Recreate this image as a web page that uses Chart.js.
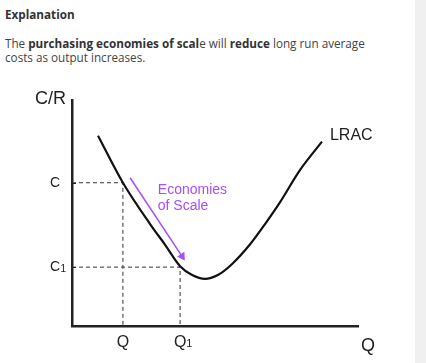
<!DOCTYPE html>
<html>
<head>
<meta charset="utf-8">
<script src="https://cdn.jsdelivr.net/npm/chart.js@4"></script>
<style>
  html, body { margin: 0; padding: 0; }
  body { width: 426px; height: 363px; background: #f0f0f0; position: relative; overflow: hidden; }
  #page { position: absolute; left: 0; top: 0; width: 415px; height: 363px; background: #fff; }
  #title { position: absolute; left: 5px; top: 7px; font: 700 11.7px 'Open Sans'; line-height: 14px; color: #333; }
  #text { position: absolute; left: 5px; top: 36px; font: 400 11.7px 'Open Sans'; line-height: 14px; color: #444; }
  #text b { color: #333; }
  #wrap { position: absolute; left: 0; top: 80px; width: 415px; height: 283px; }
</style>
</head>
<body>
<div id="page">
  <div id="title">Explanation</div>
  <div id="text">The <b>purchasing economies of scal</b>e will <b>reduce</b> long run average<br>costs as output increases.</div>
  <div id="wrap"><canvas id="econChart"></canvas></div>
</div>
<script>
// output (x) and cost (y) in chart units
const lracX = [0.91, 1.78, 2.73, 3.25, 3.78, 4.20, 4.65, 5.10, 5.59, 6.22, 6.75, 7.27, 7.97, 8.74];
const lracY = [8.43, 6.35, 4.52, 3.61, 2.65, 2.26, 2.09, 2.26, 2.74, 3.61, 4.52, 5.48, 6.91, 8.17];

const qValues = [1.78, 3.78];
const qLabels = ["Q", "Q"];
const qSubs = ["", "1"];
const cValues = [6.35, 2.61];
const cLabels = ["C", "C"];
const cSubs = ["", "1"];

const arrowX = [2.03, 3.85];
const arrowY = [6.57, 3.09];

const curve = lracX.map((x, i) => ({ x: x, y: lracY[i] }));
const guide = (q, c) => [{ x: 0, y: c }, { x: q, y: c }, { x: q, y: 0 }];

const purple = '#a64dff';
const font = '"Liberation Sans", Arial';

const labelsPlugin = {
    id: 'labels',
    afterDraw(chart) {
        const c = chart.ctx;
        const xs = chart.scales.x, ys = chart.scales.y;
        const a = chart.chartArea;
        c.save();
        c.fillStyle = '#222';
        c.textBaseline = 'alphabetic';
        c.font = '18px ' + font;
        c.textAlign = 'right';
        c.fillText('C/R', a.left - 6, a.top + 4);
        c.textAlign = 'left';
        c.fillText('Q', a.right + 3, a.bottom + 25);
        c.font = '16px ' + font;
        c.fillText('LRAC', xs.getPixelForValue(9.02), ys.getPixelForValue(8.26));

        // subscripts on the tick labels
        c.font = '14px ' + font;
        const cw = c.measureText('C').width;
        c.font = '10px ' + font;
        cValues.forEach((v, i) => {
            if (!cSubs[i]) return;
            c.fillText(cSubs[i], a.left - 12 + 0.5, ys.getPixelForValue(v) + 5);
        });
        c.font = '16px ' + font;
        const qw = c.measureText('Q').width;
        c.font = '11px ' + font;
        qValues.forEach((v, i) => {
            if (!qSubs[i]) return;
            c.fillText(qSubs[i], xs.getPixelForValue(v) + qw / 2, a.bottom + 7 + 14);
        });

        c.fillStyle = purple;
        c.font = '14px ' + font;
        c.fillText('Economies', xs.getPixelForValue(3.0), ys.getPixelForValue(5.87));
        c.fillText('of Scale', xs.getPixelForValue(3.0), ys.getPixelForValue(5.16));

        // small inner ticks on the cost axis
        c.strokeStyle = '#222';
        c.lineWidth = 1;
        cValues.forEach(v => {
            const y = Math.round(ys.getPixelForValue(v)) + 0.5;
            c.beginPath();
            c.moveTo(a.left, y);
            c.lineTo(a.left + 4, y);
            c.stroke();
        });
        c.restore();
    }
};

const ctx = document.getElementById('econChart').getContext('2d');

const econChart = new Chart(ctx, {
    type: 'scatter',
    data: {
        datasets: [
            {
                label: 'LRAC',
                data: curve,
                showLine: true,
                borderColor: '#111',
                borderWidth: 2.2,
                pointRadius: 0,
                cubicInterpolationMode: 'monotone'
            },
            {
                label: 'C',
                data: guide(qValues[0], cValues[0]),
                showLine: true,
                borderColor: '#333',
                borderWidth: 1,
                borderDash: [4, 3],
                pointRadius: 0
            },
            {
                label: 'C1',
                data: guide(qValues[1], cValues[1]),
                showLine: true,
                borderColor: '#333',
                borderWidth: 1,
                borderDash: [4, 3],
                pointRadius: 0
            },
            {
                label: 'arrow',
                data: arrowX.map((x, i) => ({ x: x, y: arrowY[i] })),
                showLine: true,
                borderColor: purple,
                backgroundColor: purple,
                borderWidth: 1.5,
                pointStyle: 'triangle',
                pointRadius: [0, 3.5],
                rotation: 147
            }
        ]
    },
    options: {
        responsive: true,
        maintainAspectRatio: false,
        animation: false,
        events: [],
        layout: { padding: { top: 16, right: 57, left: 0, bottom: 0 } },
        plugins: { legend: { display: false }, tooltip: { enabled: false } },
        scales: {
            x: {
                type: 'linear',
                min: 0,
                max: 10,
                afterFit: s => { s.height = 37; },
                afterBuildTicks: s => { s.ticks = qValues.map(v => ({ value: v })); },
                grid: { display: false, drawTicks: false },
                border: { display: true, color: '#222', width: 2.5 },
                ticks: {
                    padding: 7,
                    color: '#222',
                    font: { family: font, size: 16 },
                    callback: (v, i) => qLabels[i]
                }
            },
            y: {
                type: 'linear',
                min: 0,
                max: 10,
                afterFit: s => { s.width = 72; },
                afterBuildTicks: s => { s.ticks = cValues.map(v => ({ value: v })); },
                grid: { display: false, drawTicks: false },
                border: { display: true, color: '#222', width: 2.5 },
                ticks: {
                    padding: 12,
                    color: '#222',
                    font: { family: font, size: 14 },
                    callback: (v, i) => cLabels[i]
                }
            }
        }
    },
    plugins: [labelsPlugin]
});
</script>
</body>
</html>
